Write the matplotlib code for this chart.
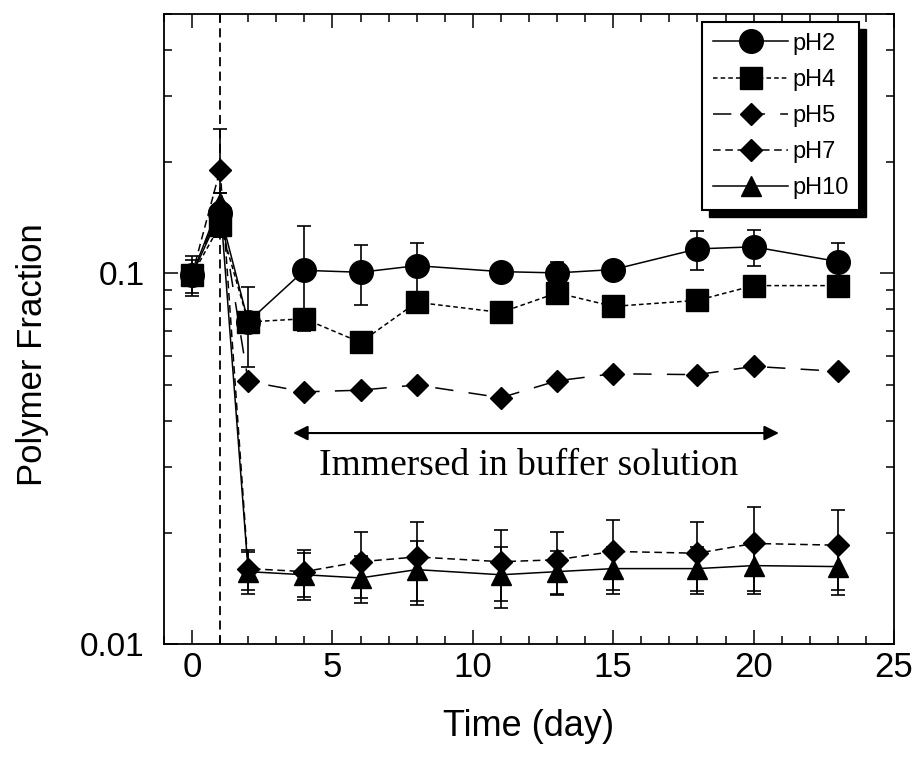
import matplotlib
matplotlib.use("Agg")
import matplotlib.pyplot as plt
from matplotlib.patches import Rectangle
from matplotlib.ticker import MultipleLocator, LogLocator, NullFormatter, FixedLocator, FixedFormatter

plt.rcParams['font.family'] = ['Liberation Sans', 'DejaVu Sans']

# data
days = [0, 1, 2, 4, 6, 8, 11, 13, 15, 18, 20, 23]

pH2 = [0.099, 0.145, 0.074, 0.1018, 0.1006, 0.1048, 0.101, 0.1002, 0.1023, 0.1163, 0.1178, 0.1075]
pH2_err = [0.012, 0.02, 0.0, 0.032, 0.0185, 0.016, 0.004, 0.007, 0.005, 0.014, 0.013, 0.013]

pH4 = [0.0987, 0.135, 0.0739, 0.0754, 0.0651, 0.0835, 0.0784, 0.0885, 0.0814, 0.0845, 0.0926, 0.0926]
pH4_err = [0.01, 0.01, 0.018, 0.004, 0.003, 0.004, 0.003, 0.004, 0.003, 0.004, 0.004, 0.003]

pH5 = [0.099, 0.15, 0.0511, 0.0479, 0.0484, 0.050, 0.0462, 0.0513, 0.0536, 0.0533, 0.0561, 0.0544]

pH7 = [0.099, 0.19, 0.0160, 0.0157, 0.0167, 0.0172, 0.0167, 0.0169, 0.0178, 0.0176, 0.0187, 0.0185]
pH7_err = [0.005, 0.054, 0.002, 0.0023, 0.0034, 0.0041, 0.0036, 0.0032, 0.0038, 0.0037, 0.0048, 0.0045]

pH10 = [0.099, 0.155, 0.0157, 0.0154, 0.0151, 0.0159, 0.0154, 0.0157, 0.0160, 0.0160, 0.0163, 0.0162]
pH10_err = [0.005, 0.01, 0.002, 0.0022, 0.0022, 0.0031, 0.0029, 0.0021, 0.0023, 0.0023, 0.0026, 0.0026]

fig = plt.figure(figsize=(9.16, 7.68), dpi=100)
ax = fig.add_axes([0.179, 0.161, 0.797, 0.821])

ax.axvline(1, color='k', linestyle=(0, (5, 3)), linewidth=1.3, zorder=1)

ekw = dict(color='k', ecolor='k', elinewidth=1.2, capsize=5, capthick=1.2, linewidth=1.1)
l1 = ax.errorbar(days, pH2, yerr=pH2_err, marker='o', markersize=17, linestyle='-', label='pH2', **ekw)
l2 = ax.errorbar(days, pH4, yerr=pH4_err, marker='s', markersize=16, linestyle=(0, (3, 2)), label='pH4', **ekw)
l3 = ax.errorbar(days, pH5, marker='D', markersize=11, linestyle=(0, (12, 10)), label='pH5', **ekw)
l4 = ax.errorbar(days, pH7, yerr=pH7_err, marker='D', markersize=11, linestyle=(0, (5, 3)), label='pH7', **ekw)
l5 = ax.errorbar(days, pH10, yerr=pH10_err, marker='^', markersize=15, linestyle='-', label='pH10', **ekw)

ax.annotate('', xy=(21, 0.0371), xytext=(3.5, 0.0371),
            arrowprops=dict(arrowstyle='<|-|>', color='k', lw=1.5, mutation_scale=22))
ax.text(12.0, 0.0302, 'Immersed in buffer solution', ha='center', va='center',
        fontsize=27, family=['Liberation Serif', 'DejaVu Serif'])

ax.set_yscale('log')
ax.set_xlim(-1, 25)
ax.set_ylim(0.01, 0.5)
ax.xaxis.set_major_locator(MultipleLocator(5))
ax.xaxis.set_minor_locator(MultipleLocator(1))
ax.yaxis.set_major_locator(FixedLocator([0.01, 0.1]))
ax.yaxis.set_major_formatter(FixedFormatter(['0.01', '0.1']))
ax.yaxis.set_minor_locator(LogLocator(base=10, subs=range(2, 10)))
ax.yaxis.set_minor_formatter(NullFormatter())

ax.tick_params(which='both', direction='in', top=True, right=True, width=1.1)
ax.tick_params(which='major', length=10)
ax.tick_params(which='minor', length=6)
ax.tick_params(axis='y', labelsize=24, pad=14)
ax.tick_params(axis='x', labelsize=25, pad=5)
for sp in ax.spines.values():
    sp.set_linewidth(1.3)

ax.set_xlabel('Time (day)', fontsize=26, labelpad=18)
ax.set_ylabel('Polymer Fraction', fontsize=25)
ax.yaxis.set_label_coords(-0.158, 0.459)

# legend shows the lines with markers only, no error bars
handles = [c.lines[0] for c in (l1, l2, l3, l4, l5)]
leg = ax.legend(handles=handles, labels=['pH2', 'pH4', 'pH5', 'pH7', 'pH10'],
                loc='upper right', bbox_to_anchor=(0.952, 0.987),
                fontsize=17, handlelength=3.2, handletextpad=0.15, labelspacing=0.6,
                borderpad=0.45, borderaxespad=0, fancybox=False, framealpha=1, edgecolor='k')
leg.get_frame().set_linewidth(1.5)

# solid black offset shadow behind the legend box
fig.canvas.draw()
bb = leg.get_window_extent().transformed(fig.transFigure.inverted())
off_x, off_y = 7 / 916, 7 / 768
ax.add_patch(Rectangle((bb.x0 + off_x, bb.y0 - off_y), bb.width, bb.height, transform=fig.transFigure,
                       facecolor='k', edgecolor='k', zorder=4.9, clip_on=False))

fig.savefig('out.png', dpi=100)
